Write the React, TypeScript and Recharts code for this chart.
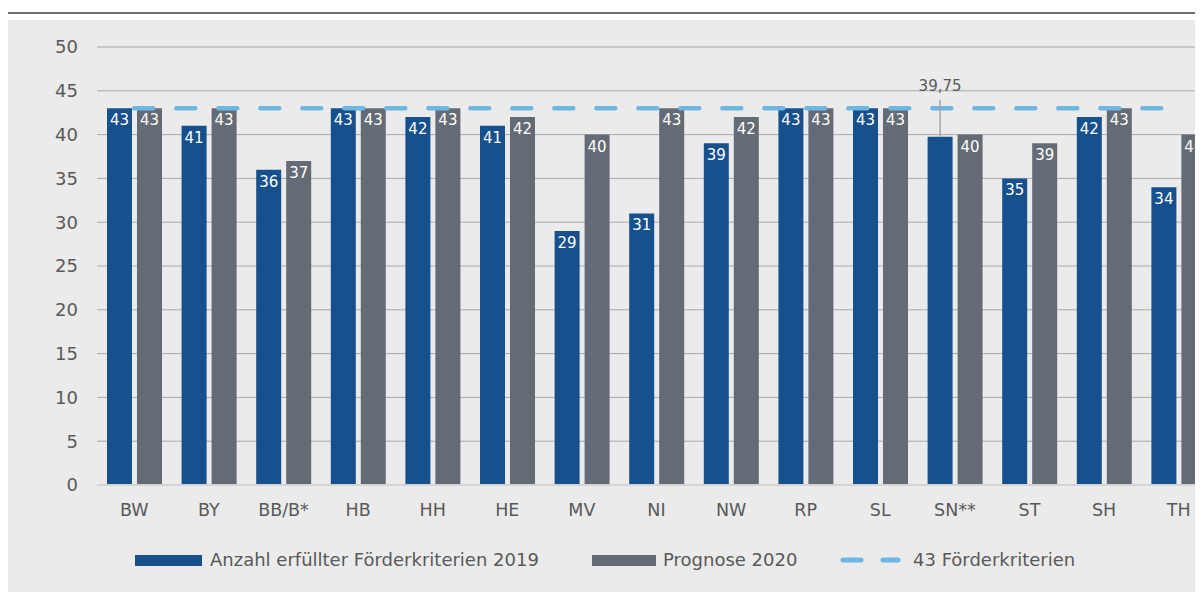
import {
  ComposedChart,
  Bar,
  Line,
  XAxis,
  YAxis,
  CartesianGrid,
  LabelList,
} from "recharts";

const states = ["BW", "BY", "BB/B*", "HB", "HH", "HE", "MV", "NI", "NW", "RP", "SL", "SN**", "ST", "SH", "TH"];
const erfuellt2019 = [43, 41, 36, 43, 42, 41, 29, 31, 39, 43, 43, 39.75, 35, 42, 34];
const prognose2020 = [43, 43, 37, 43, 43, 42, 40, 43, 42, 43, 43, 40, 39, 43, 40];
const zielwert = 43;
const calloutStates = ["SN**"];
const yTicks = [0, 5, 10, 15, 20, 25, 30, 35, 40, 45, 50];

const BLUE = "#16508d";
const GRAY = "#646b75";
const DASH = "#6fb6e1";
const TEXT = "#595959";
const FONT = "'DejaVu Sans', sans-serif";

const data = states.map((state, i) => ({
  state,
  erfuellt: erfuellt2019[i],
  prognose: prognose2020[i],
  ziel: zielwert,
}));

const fmt = (v: number) => v.toLocaleString("de-DE");

const BlueLabel = (props: any) => {
  const { x, y, width, value, index } = props;
  const cx = x + width / 2;
  if (calloutStates.includes(states[index])) {
    return (
      <g>
        <line x1={cx} x2={cx} y1={y - 37} y2={y} stroke="#a6a6a6" strokeWidth={1.5} />
        <text x={cx} y={y - 46} textAnchor="middle" fill={TEXT} fontSize={15} fontFamily={FONT}>
          {fmt(value)}
        </text>
      </g>
    );
  }
  return (
    <text x={cx} y={y + 17} textAnchor="middle" fill="#fff" fontSize={15} fontFamily={FONT}>
      {fmt(value)}
    </text>
  );
};

const GrayLabel = (props: any) => {
  const { x, y, width, value } = props;
  return (
    <text x={x + width / 2} y={y + 17} textAnchor="middle" fill="#fff" fontSize={15} fontFamily={FONT}>
      {fmt(value)}
    </text>
  );
};

const legendText = {
  fontSize: 18,
  lineHeight: "20px",
  color: TEXT,
  fontFamily: FONT,
  whiteSpace: "nowrap" as const,
};

const App = () => {
  return (
    <div style={{ width: 1195, height: 584, overflow: "hidden", position: "relative" }}>
      <div style={{ position: "absolute", top: 4, left: 0, width: 1195, height: 2, background: "#6a6e74" }} />
      <div
        style={{
          position: "absolute",
          top: 12,
          left: 0,
          width: 1240,
          height: 580,
          background: "#ebebeb",
        }}
      >
        <ComposedChart
          width={1230}
          height={572}
          data={data}
          margin={{ top: 27, right: 22, bottom: 77, left: 0 }}
          barGap={5}
          barSize={25}
        >
          <CartesianGrid vertical={false} stroke="#a9a9a9" strokeWidth={1} />
          <XAxis
            dataKey="state"
            axisLine={{ stroke: "#d4d4d4", strokeWidth: 2 }}
            tickLine={false}
            tickMargin={13}
            height={30}
            interval={0}
            tick={{ fill: TEXT, fontSize: 17.5, fontFamily: FONT }}
          />
          <YAxis
            width={89}
            domain={[0, 50]}
            ticks={yTicks}
            axisLine={false}
            tickLine={false}
            tickMargin={13}
            tick={{ fill: TEXT, fontSize: 18, fontFamily: FONT }}
          />
          <Bar dataKey="erfuellt" fill={BLUE} isAnimationActive={false}>
            <LabelList dataKey="erfuellt" content={BlueLabel} />
          </Bar>
          <Bar dataKey="prognose" fill={GRAY} isAnimationActive={false}>
            <LabelList dataKey="prognose" content={GrayLabel} />
          </Bar>
          <Line
            dataKey="ziel"
            stroke={DASH}
            strokeWidth={4.5}
            strokeDasharray="19 23"
            strokeLinecap="round"
            dot={false}
            activeDot={false}
            isAnimationActive={false}
          />
        </ComposedChart>
        <div style={{ position: "absolute", top: 530, left: 127, display: "flex", alignItems: "center" }}>
          <div style={{ width: 67, height: 11, background: BLUE, marginRight: 8 }} />
          <span style={legendText}>Anzahl erfüllter Förderkriterien 2019</span>
        </div>
        <div style={{ position: "absolute", top: 530, left: 584, display: "flex", alignItems: "center" }}>
          <div style={{ width: 64, height: 11, background: GRAY, marginRight: 7 }} />
          <span style={legendText}>Prognose 2020</span>
        </div>
        <div style={{ position: "absolute", top: 530, left: 832, display: "flex", alignItems: "center" }}>
          <svg width={61} height={6} style={{ marginRight: 12 }}>
            <line x1={3} x2={58} y1={3} y2={3} stroke={DASH} strokeWidth={5} strokeDasharray="18 22" strokeLinecap="round" />
          </svg>
          <span style={legendText}>43 Förderkriterien</span>
        </div>
      </div>
    </div>
  );
};

export default App;
